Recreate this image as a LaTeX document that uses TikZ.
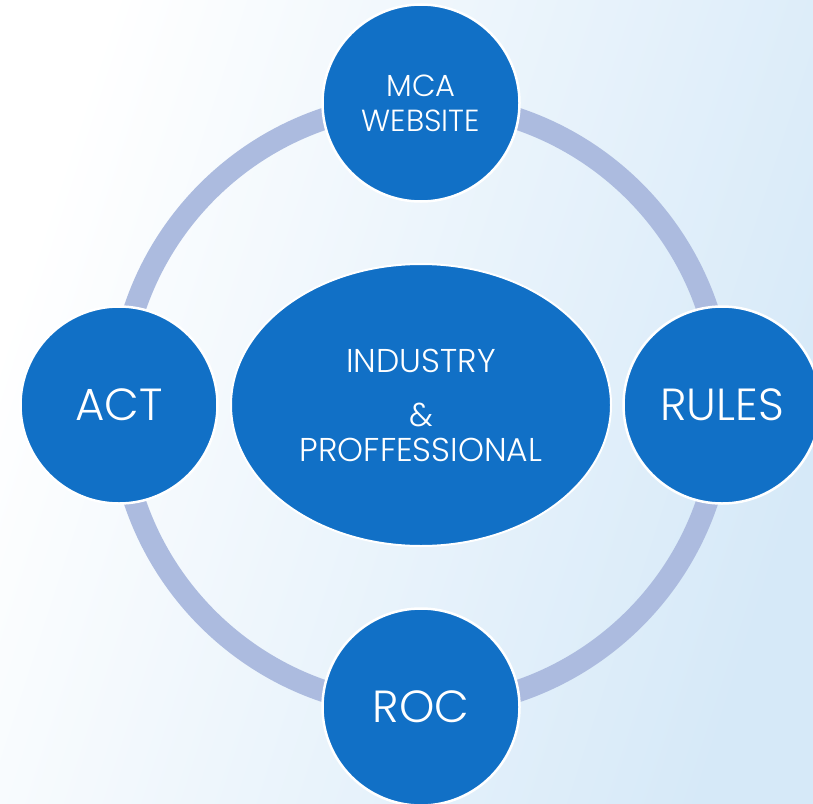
\documentclass[tikz,border=0pt]{standalone}
\usepackage{fontspec}
\setmainfont{Poppins}[UprightFont={* Light}]
\usetikzlibrary{positioning}
\usetikzlibrary{shapes.geometric}
\definecolor{bgblue}{RGB}{214,233,248}
\definecolor{ringblue}{RGB}{172,187,223}
\definecolor{discblue}{RGB}{17,112,198}

\begin{document}
\begin{tikzpicture}[
    x=1pt, y=-1pt,
    % node styles
    disc/.style = {
      circle,
      fill=discblue,
      draw=white,
      line width=2.5pt,
      minimum size=197pt,
      inner sep=0pt,
      align=center,
      text=white
    },
    hub/.style = {
      ellipse,
      fill=discblue,
      draw=white,
      line width=2pt,
      minimum width=380pt,
      minimum height=282pt,
      inner sep=0pt,
      align=center,
      text=white,
      font=\fontsize{33}{35}\selectfont
    },
    % ring style
    ring/.style = {draw=ringblue, line width=22pt}
  ]

  % --- Background
  \shade[top color=white, bottom color=bgblue, shading angle=72]
    (0,0) rectangle (813,803);
  \useasboundingbox (0,0) rectangle (813,803);

  % --- Hub and ring
  \node[hub] (hub) at (421,405) {INDUSTRY\\[19pt]\&\\PROFFESSIONAL};
  \draw[ring] (hub.center) circle[radius=302pt];

  % --- Discs
  \node[disc, font=\fontsize{30.5}{35}\selectfont] (web) at (421,103) {MCA\\WEBSITE};
  \node[disc, font=\fontsize{45}{45}\selectfont] (act) at (119,405) {ACT};
  \node[disc, font=\fontsize{45}{45}\selectfont] (rules) at (722,405) {RULES};
  \node[disc, font=\fontsize{45}{45}\selectfont] (roc) at (421,707) {ROC};

\end{tikzpicture}
\end{document}
